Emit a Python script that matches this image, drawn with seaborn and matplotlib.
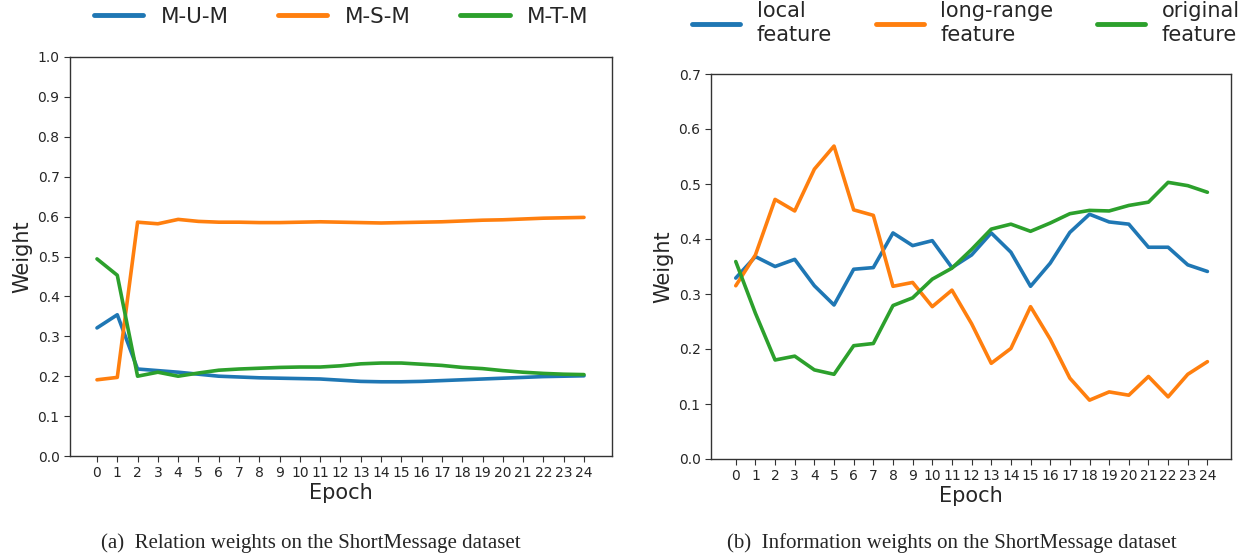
import numpy as np
import pandas as pd
import matplotlib
matplotlib.use("Agg")
import matplotlib.pyplot as plt
import seaborn as sns

epochs = list(range(25))

# (a) Relation weights
mum = [0.321, 0.354, 0.218, 0.214, 0.210, 0.205, 0.200, 0.198, 0.196, 0.195, 0.194, 0.193, 0.190,
       0.187, 0.186, 0.186, 0.187, 0.189, 0.191, 0.193, 0.195, 0.197, 0.199, 0.200, 0.201]
msm = [0.191, 0.197, 0.586, 0.582, 0.593, 0.588, 0.586, 0.586, 0.585, 0.585, 0.586, 0.587, 0.586,
       0.585, 0.584, 0.585, 0.586, 0.587, 0.589, 0.591, 0.592, 0.594, 0.596, 0.597, 0.598]
mtm = [0.494, 0.453, 0.200, 0.210, 0.200, 0.208, 0.215, 0.218, 0.220, 0.222, 0.223, 0.223, 0.226,
       0.231, 0.233, 0.233, 0.230, 0.227, 0.222, 0.219, 0.214, 0.210, 0.207, 0.205, 0.204]
rel_names = ["M-U-M", "M-S-M", "M-T-M"]

# (b) Information weights
local_f = [0.329, 0.368, 0.350, 0.363, 0.315, 0.280, 0.345, 0.348, 0.411, 0.388, 0.397, 0.348, 0.371,
           0.411, 0.376, 0.314, 0.356, 0.412, 0.445, 0.431, 0.427, 0.385, 0.385, 0.353, 0.341]
long_f = [0.315, 0.371, 0.472, 0.451, 0.527, 0.569, 0.453, 0.443, 0.314, 0.321, 0.277, 0.307, 0.246,
          0.174, 0.201, 0.277, 0.218, 0.147, 0.107, 0.122, 0.116, 0.150, 0.113, 0.154, 0.177]
orig_f = [0.359, 0.265, 0.180, 0.187, 0.162, 0.154, 0.206, 0.210, 0.279, 0.293, 0.327, 0.347, 0.381,
          0.418, 0.427, 0.414, 0.429, 0.446, 0.452, 0.451, 0.461, 0.467, 0.503, 0.497, 0.485]
info_names = ["local\nfeature", "long-range\nfeature", "original\nfeature"]

captions = ["(a)  Relation weights on the ShortMessage dataset",
            "(b)  Information weights on the ShortMessage dataset"]

sns.set_style("ticks")
plt.rcParams["font.family"] = ["DejaVu Sans"]
palette = sns.color_palette("tab10", 3)

W, H = 1254, 560
fig = plt.figure(figsize=(W / 100, H / 100), dpi=100)

def px_axes(l, r, t, b):
    return fig.add_axes([l / W, 1 - b / H, (r - l) / W, (b - t) / H])

df_a = pd.DataFrame({"Epoch": epochs * 3,
                     "Weight": mum + msm + mtm,
                     "series": np.repeat(rel_names, 25)})
df_b = pd.DataFrame({"Epoch": epochs * 3,
                     "Weight": local_f + long_f + orig_f,
                     "series": np.repeat(info_names, 25)})

ax1 = px_axes(70, 612, 57, 456)
sns.lineplot(data=df_a, x="Epoch", y="Weight", hue="series", palette=palette,
             linewidth=2.6, ax=ax1, legend=True)
ax1.set_xlim(-1.33, 25.38)
ax1.set_ylim(0, 1.0)
ax1.set_yticks(np.arange(0, 1.01, 0.1))
ax1.set_xticks(epochs)

ax2 = px_axes(711, 1231, 74, 459)
sns.lineplot(data=df_b, x="Epoch", y="Weight", hue="series", palette=palette,
             linewidth=2.6, ax=ax2, legend=True)
ax2.set_xlim(-1.26, 25.2)
ax2.set_ylim(0, 0.7)
ax2.set_yticks(np.arange(0, 0.71, 0.1))
ax2.set_xticks(epochs)

for ax in (ax1, ax2):
    ax.set_yticklabels([f"{v:.1f}" for v in ax.get_yticks()])
    ax.tick_params(labelsize=10, color="#333333", length=4)
    ax.set_xlabel("Epoch", fontsize=15, labelpad=2)
    ax.set_ylabel("Weight", fontsize=15, labelpad=4)
    for s in ax.spines.values():
        s.set_color("#333333")
        s.set_linewidth(1.0)

sns.move_legend(ax1, "center", bbox_to_anchor=(341 / W, 1 - 17 / H),
                bbox_transform=fig.transFigure, ncol=3, frameon=False, title=None,
                fontsize=15.5, handlelength=2.3, handletextpad=0.8, columnspacing=2.3)
sns.move_legend(ax2, "center", bbox_to_anchor=(966 / W, 1 - 23 / H),
                bbox_transform=fig.transFigure, ncol=3, frameon=False, title=None,
                fontsize=15, handlelength=2.3, handletextpad=0.8, columnspacing=2.1,
                labelspacing=0.2)
for ax in (ax1, ax2):
    for ln in ax.get_legend().get_lines():
        ln.set_linewidth(3.5)

fig.text(311 / W, 1 - 543 / H, captions[0], ha="center", va="center",
         family=["Liberation Serif"], fontsize=15)
fig.text(952 / W, 1 - 543 / H, captions[1], ha="center", va="center",
         family=["Liberation Serif"], fontsize=15)

fig.savefig("out.png", dpi=100)
